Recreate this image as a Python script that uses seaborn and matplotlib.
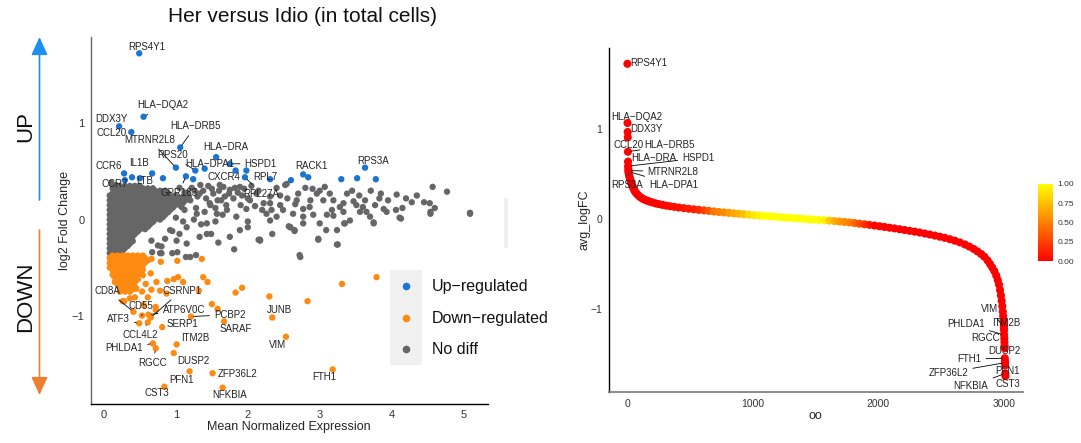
import numpy as np
import pandas as pd
import matplotlib
matplotlib.use("Agg")
import matplotlib.pyplot as plt
import seaborn as sns
import matplotlib as mpl
from matplotlib.patches import Rectangle, FancyArrowPatch
from matplotlib.lines import Line2D

# ======================= DATA: left panel (MA plot) =======================
up_gene = ["RPS4Y1", "HLA-DQA2", "DDX3Y", "CCL20", "HLA-DRB5", "HLA-DRA", "HSPD1", "MTRNR2L8",
           "RPS20", "HLA-DPA1", "CXCR4", "", "RPL27A", "RPL7", "RACK1", "", "", "RPS3A", "", "",
           "", "CCR6", "CCR7", "LTB", "", "IL1B", "", "GPR183", ""]
up_mean = [0.49, 0.55, 0.21, 0.38, 1.06, 1.56, 1.75, 1.00, 1.27, 1.40, 1.83, 1.98, 1.96, 2.31,
           2.77, 2.84, 2.60, 3.63, 3.30, 3.52, 3.78, 0.28, 0.29, 0.39, 0.50, 0.67, 0.82, 1.14, 1.24]
up_lfc = [1.73, 1.07, 0.97, 0.91, 0.75, 0.65, 0.58, 0.54, 0.51, 0.53, 0.51, 0.51, 0.44, 0.42,
          0.47, 0.44, 0.41, 0.54, 0.42, 0.43, 0.42, 0.48, 0.41, 0.44, 0.43, 0.48, 0.43, 0.45, 0.42]

down_gene = ["CD8A", "CSRNP1", "CD55", "ATP6V0C", "PCBP2", "ATF3", "SERP1", "SARAF", "JUNB",
             "CCL4L2", "ITM2B", "VIM", "PHLDA1", "RGCC", "DUSP2", "ZFP36L2", "PFN1", "FTH1",
             "CST3", "NFKBIA"]
down_mean = [0.41, 0.65, 0.53, 0.62, 1.21, 0.49, 0.81, 1.67, 2.34, 0.61, 1.01, 2.53, 0.68, 0.72,
             0.97, 1.51, 1.19, 3.18, 0.84, 1.65]
down_lfc = [-0.96, -1.02, -1.00, -0.99, -1.01, -1.08, -1.12, -1.06, -1.02, -1.07, -1.30, -1.22,
            -1.29, -1.34, -1.39, -1.60, -1.58, -1.56, -1.74, -1.75]

down_other_mean = [3.31, 3.79, 2.83, 2.30, 1.92, 1.83, 1.58, 1.50, 1.38, 1.44, 1.32, 1.36, 1.02,
                   0.79, 0.66, 1.10, 1.03, 0.97, 0.88, 0.73, 0.66, 0.78, 0.87, 0.72, 0.55, 0.28,
                   0.43, 0.61, 0.53, 0.45, 0.58, 0.65, 0.54, 0.26, 0.72, 0.36]
down_other_lfc = [-0.67, -0.60, -0.85, -0.80, -0.71, -0.76, -0.93, -0.88, -0.60, -0.65, -0.74,
                  -0.41, -0.43, -0.44, -0.41, -0.65, -0.60, -0.62, -0.64, -0.65, -0.73, -0.74,
                  -0.77, -0.91, -0.89, -0.85, -0.81, -0.81, -0.75, -0.72, -0.67, -0.56, -0.58,
                  -0.85, -0.94, -0.82]

# dense orange cluster, read row by row: (log2FC, [mean expression values])
down_core_rows = [
    (-0.375, [0.12, 0.19, 0.26, 0.33, 0.40, 0.47, 0.54]),
    (-0.400, [0.08, 0.15, 0.22, 0.29, 0.36, 0.43, 0.50, 0.57]),
    (-0.425, [0.12, 0.19, 0.26, 0.33, 0.40, 0.47, 0.54, 0.61]),
    (-0.450, [0.08, 0.15, 0.22, 0.29, 0.36, 0.43, 0.50, 0.57]),
    (-0.475, [0.12, 0.19, 0.26, 0.33, 0.40, 0.47, 0.54]),
    (-0.500, [0.08, 0.15, 0.22, 0.29, 0.36, 0.43, 0.50]),
    (-0.525, [0.12, 0.19, 0.26, 0.33, 0.40, 0.47, 0.54]),
    (-0.550, [0.15, 0.22, 0.29, 0.36, 0.43, 0.50]),
    (-0.575, [0.12, 0.19, 0.26, 0.33, 0.40, 0.47]),
    (-0.600, [0.15, 0.22, 0.29, 0.36, 0.43]),
    (-0.625, [0.19, 0.26, 0.33, 0.40, 0.47]),
    (-0.650, [0.15, 0.22, 0.29, 0.36, 0.43]),
    (-0.675, [0.19, 0.26, 0.33, 0.40]),
    (-0.700, [0.22, 0.29, 0.36, 0.43]),
    (-0.725, [0.26, 0.33, 0.40]),
    (-0.750, [0.22, 0.29, 0.36]),
]

# dense grey cluster, read row by row: (log2FC, [mean expression values])
gray_core_rows = [
    (0.350, [0.15, 0.22, 0.29, 0.36, 0.43, 0.50]),
    (0.325, [0.12, 0.19, 0.26, 0.33, 0.40, 0.47, 0.54, 0.61, 0.68]),
    (0.300, [0.15, 0.22, 0.29, 0.36, 0.43, 0.50, 0.57, 0.64, 0.71, 0.78, 0.85]),
    (0.275, [0.12, 0.19, 0.26, 0.33, 0.40, 0.47, 0.54, 0.61, 0.68, 0.75, 0.82, 0.89]),
    (0.250, [0.08, 0.15, 0.22, 0.29, 0.36, 0.43, 0.50, 0.57, 0.64, 0.71, 0.78, 0.85, 0.92, 0.99]),
    (0.225, [0.12, 0.19, 0.26, 0.33, 0.40, 0.47, 0.54, 0.61, 0.68, 0.75, 0.82, 0.89, 0.96, 1.03]),
    (0.200, [0.08, 0.15, 0.22, 0.29, 0.36, 0.43, 0.50, 0.57, 0.64, 0.71, 0.78, 0.85, 0.92, 0.99,
             1.06, 1.13]),
    (0.175, [0.12, 0.19, 0.26, 0.33, 0.40, 0.47, 0.54, 0.61, 0.68, 0.75, 0.82, 0.89, 0.96, 1.03,
             1.10]),
    (0.150, [0.08, 0.15, 0.22, 0.29, 0.36, 0.43, 0.50, 0.57, 0.64, 0.71, 0.78, 0.85, 0.92, 0.99,
             1.06]),
    (0.125, [0.12, 0.19, 0.26, 0.33, 0.40, 0.47, 0.54, 0.61, 0.68, 0.75, 0.82, 0.89, 0.96]),
    (0.100, [0.08, 0.15, 0.22, 0.29, 0.36, 0.43, 0.50, 0.57, 0.64, 0.71, 0.78, 0.85, 0.92]),
    (0.075, [0.12, 0.19, 0.26, 0.33, 0.40, 0.47, 0.54, 0.61, 0.68, 0.75, 0.82, 0.89]),
    (0.050, [0.08, 0.15, 0.22, 0.29, 0.36, 0.43, 0.50, 0.57, 0.64, 0.71, 0.78, 0.85]),
    (0.025, [0.12, 0.19, 0.26, 0.33, 0.40, 0.47, 0.54, 0.61, 0.68, 0.75, 0.82]),
    (0.000, [0.08, 0.15, 0.22, 0.29, 0.36, 0.43, 0.50, 0.57, 0.64, 0.71, 0.78]),
    (-0.025, [0.12, 0.19, 0.26, 0.33, 0.40, 0.47, 0.54, 0.61, 0.68]),
    (-0.050, [0.08, 0.15, 0.22, 0.29, 0.36, 0.43, 0.50, 0.57, 0.64]),
    (-0.075, [0.12, 0.19, 0.26, 0.33, 0.40, 0.47, 0.54, 0.61]),
    (-0.100, [0.08, 0.15, 0.22, 0.29, 0.36, 0.43, 0.50, 0.57]),
    (-0.125, [0.12, 0.19, 0.26, 0.33, 0.40, 0.47]),
    (-0.150, [0.08, 0.15, 0.22, 0.29, 0.36, 0.43]),
    (-0.175, [0.12, 0.19, 0.26, 0.33, 0.40]),
    (-0.200, [0.08, 0.15, 0.22, 0.29, 0.36]),
    (-0.225, [0.12, 0.19, 0.26, 0.33, 0.40]),
    (-0.250, [0.08, 0.15, 0.22, 0.29, 0.36]),
    (-0.275, [0.12, 0.19, 0.26, 0.33]),
    (-0.300, [0.08, 0.15, 0.22, 0.29]),
    (-0.325, [0.12, 0.19, 0.26]),
    (-0.350, [0.08, 0.15, 0.22]),
]

gray_sparse_mean = [1.61, 1.75, 1.89, 2.03, 2.12, 2.22, 2.31, 2.40, 2.49, 2.59, 2.68, 2.77, 2.86,
                    3.00, 3.05, 3.14, 3.24, 3.33, 2.73, 2.17, 1.89, 1.75, 1.57, 1.43, 1.33, 1.20,
                    1.01, 0.92, 0.80, 0.66, 1.33, 1.47, 1.63, 1.71, 1.84, 1.98, 1.29, 1.15, 1.08,
                    4.57, 4.77, 5.09, 4.45, 4.53, 4.54, 4.28, 4.07, 4.13, 4.06, 3.93, 3.89, 3.83,
                    3.77, 3.71, 3.75, 3.63, 3.60, 3.51, 3.42, 3.35, 3.24, 2.98, 3.09, 3.17, 3.19,
                    3.28, 3.38, 3.47, 3.07, 2.96, 2.87, 2.91, 2.77, 2.66, 2.63, 2.59, 2.65, 2.54,
                    2.52, 2.45, 2.31, 2.33, 2.26, 2.17, 2.31, 3.19, 3.33, 3.56, 3.70,
                    2.72, 2.98, 3.25, 2.65, 2.57, 2.77, 2.15, 1.81, 1.59, 1.43, 1.49, 1.28, 1.14,
                    1.02, 0.95, 0.78, 0.80, 0.67, 2.00, 2.34, 3.34, 4.54, 5.09, 3.75, 4.11,
                    0.10, 0.16, 1.16, 1.22, 1.30, 1.38, 1.45, 1.52, 1.20, 1.10, 1.60, 1.68, 1.80,
                    1.86, 1.95, 2.05, 1.70, 1.55, 1.90, 2.15, 2.20, 2.40, 2.45, 2.55, 2.70, 2.80,
                    2.90, 3.00, 3.10, 3.45, 3.55, 3.65, 3.85, 3.95, 4.15, 4.20, 4.35, 4.60, 1.00,
                    1.10, 1.25, 0.95, 1.05, 1.15, 0.85, 0.75, 1.35, 1.55, 1.65, 2.00,
                    1.05, 1.12, 1.18, 1.26, 1.34, 1.42, 1.50, 1.58, 1.66, 1.74, 1.82, 1.92, 2.00,
                    2.10, 1.12, 1.28, 1.40, 1.48]
gray_sparse_lfc = [0.36, 0.31, 0.34, 0.20, 0.27, 0.17, 0.24, 0.03, 0.10, -0.08, 0.20, 0.03, 0.13,
                   -0.04, 0.20, 0.27, -0.11, 0.17, -0.39, -0.22, -0.11, -0.18, 0.06, -0.04, -0.18,
                   -0.39, -0.22, -0.11, -0.35, -0.22, 0.27, 0.17, 0.20, 0.10, 0.03, 0.11, 0.06,
                   -0.08, 0.13,
                   0.34, 0.29, 0.07, 0.18, 0.17, 0.08, 0.18, 0.26, 0.01, 0.10, 0.08, 0.11, 0.22,
                   0.15, 0.30, -0.03, 0.20, 0.13, 0.15, -0.01, -0.04, -0.26, -0.20, -0.11, 0.10,
                   0.20, 0.13, 0.27, 0.19, 0.34, 0.27, 0.20, 0.05, 0.11, 0.16, 0.06, -0.08, -0.12,
                   0.37, 0.36, 0.25, 0.17, 0.10, 0.06, -0.21, -0.01, 0.04, 0.08, 0.08, 0.03,
                   -0.37, -0.21, -0.26, -0.11, -0.07, -0.04, -0.21, -0.31, -0.24, -0.15, -0.15,
                   -0.37, -0.39, -0.34, -0.35, -0.35, -0.28, -0.34, -0.08, -0.15, -0.04, 0.06,
                   0.06, -0.04, 0.02,
                   0.38, 0.36, 0.28, 0.33, 0.24, 0.30, 0.35, 0.27, 0.20, 0.24, 0.30, 0.24, 0.22,
                   0.28, 0.32, 0.35, 0.15, 0.12, 0.15, 0.30, 0.10, 0.33, 0.15, 0.22, 0.27, 0.33,
                   0.32, 0.30, 0.05, 0.30, 0.25, 0.08, 0.27, 0.20, 0.12, 0.22, 0.25, 0.12, 0.02,
                   -0.02, 0.00, -0.12, -0.15, -0.25, -0.20, -0.27, -0.05, -0.02, 0.05, -0.02,
                   0.33, 0.28, 0.24, 0.30, 0.36, 0.22, 0.32, 0.20, 0.34, 0.27, 0.33, 0.25, 0.22,
                   0.14, 0.10, 0.12, 0.08, 0.15]

group_names = ["Up-regulated", "Down-regulated", "No diff"]

# ======================= DATA: right panel (ranked avg_logFC) =======================
rank_idx = [1, 2, 3, 4, 5, 6, 7, 8, 9, 10, 11,
            14, 18, 22, 26, 30, 35, 40, 46, 53, 60, 68, 77, 87, 98, 110, 125, 140, 158, 178,
            200, 225, 250, 280, 310, 340, 375, 410, 450, 490, 530, 570, 610, 650, 690, 730,
            770, 810, 850, 890, 930, 970, 1010, 1050, 1090, 1130, 1170, 1210, 1250, 1290, 1330,
            1370, 1410, 1450, 1490, 1530, 1570, 1610, 1650, 1690, 1730, 1770, 1810, 1850, 1890,
            1930, 1970, 2010, 2050, 2090, 2130, 2170, 2210, 2250, 2290, 2330, 2370, 2410, 2450,
            2490, 2530, 2570, 2610, 2650, 2690, 2725, 2760, 2790, 2820, 2845, 2870, 2890, 2908,
            2925, 2940, 2952, 2962, 2970, 2977, 2983, 2988, 2992, 2995, 2998, 3000, 3001, 3002,
            3003, 3004, 3005, 3006, 3007, 3008, 3009, 3010, 3011, 3012, 3013]
avg_logFC = [1.73, 1.07, 0.97, 0.91, 0.75, 0.64, 0.59, 0.57, 0.54, 0.53, 0.51,
             0.49, 0.47, 0.45, 0.43, 0.41, 0.39, 0.37, 0.35, 0.33, 0.31, 0.295, 0.28, 0.265,
             0.25, 0.24, 0.225, 0.215, 0.205, 0.195, 0.185, 0.175, 0.167, 0.158, 0.150, 0.143,
             0.136, 0.129, 0.122, 0.115, 0.109, 0.103, 0.097, 0.091, 0.085, 0.079, 0.074,
             0.069, 0.064, 0.059, 0.054, 0.049, 0.044, 0.040, 0.035, 0.031, 0.027, 0.022,
             0.018, 0.014, 0.010, 0.006, 0.002, -0.002, -0.006, -0.010, -0.014, -0.018, -0.022,
             -0.027, -0.032, -0.038, -0.044, -0.051, -0.058, -0.065, -0.072, -0.080, -0.088,
             -0.096, -0.104, -0.113, -0.122, -0.131, -0.140, -0.150, -0.161, -0.172, -0.184,
             -0.196, -0.209, -0.224, -0.241, -0.260, -0.283, -0.306, -0.333, -0.36, -0.39,
             -0.42, -0.46, -0.50, -0.54, -0.58, -0.63, -0.68, -0.73, -0.79, -0.85, -0.91, -0.97,
             -1.03, -1.08, -1.13, -1.18, -1.21, -1.24, -1.29, -1.33, -1.37, -1.41, -1.44, -1.55,
             -1.58, -1.60, -1.63, -1.72, -1.75]
colour_val = [0, 0, 0, 0, 0, 0, 0, 0, 0, 0, 0,
              0, 0, 0, 0, 0, 0, 0, 0, 0, 0, 0, 0, 0, 0, 0, 0, 0, 0, 0,
              0, 0, 0, 0.02, 0.03, 0.04, 0.05, 0.06, 0.08, 0.1, 0.12, 0.15, 0.25, 0.35, 0.45, 0.5,
              0.55, 0.6, 0.65, 0.7, 0.75, 0.85, 0.9, 0.95, 1.0, 1.0, 1.0, 1.0, 1.0, 1.0, 1.0,
              1.0, 1.0, 1.0, 1.0, 1.0, 0.95, 0.8, 0.7, 0.6, 0.55, 0.5, 0.4, 0.3, 0.2,
              0.1, 0, 0, 0, 0, 0, 0, 0, 0, 0, 0, 0, 0, 0,
              0, 0, 0, 0, 0, 0, 0, 0, 0, 0, 0, 0, 0, 0,
              0, 0, 0, 0, 0, 0, 0, 0, 0, 0, 0, 0, 0, 0,
              0, 0, 0, 0, 0, 0, 0, 0, 0, 0, 0]
rank_gene = {"RPS4Y1": 1, "HLA-DQA2": 2, "DDX3Y": 3, "CCL20": 4, "HLA-DRB5": 5, "HLA-DRA": 6,
             "HSPD1": 7, "MTRNR2L8": 9, "HLA-DPA1": 10, "RPS3A": 11, "VIM": 3001, "ITM2B": 3002,
             "PHLDA1": 3003, "RGCC": 3004, "DUSP2": 3007, "FTH1": 3008, "ZFP36L2": 3010,
             "PFN1": 3011, "NFKBIA": 3012, "CST3": 3013}
cbar_ticks = [0.00, 0.25, 0.50, 0.75, 1.00]

# ======================= layout (label placement, not data) =======================
left_label_pos = {
    "RPS4Y1": (0.60, 1.80, 0), "HLA-DQA2": (0.82, 1.19, 1), "DDX3Y": (0.11, 1.05, 0),
    "CCL20": (0.10, 0.90, 0), "MTRNR2L8": (0.64, 0.83, 1), "HLA-DRB5": (1.27, 0.97, 1),
    "HLA-DRA": (1.69, 0.75, 0), "RPS20": (0.95, 0.67, 1), "HLA-DPA1": (1.47, 0.58, 0),
    "HSPD1": (2.18, 0.58, 1), "RACK1": (2.88, 0.56, 0), "RPS3A": (3.74, 0.61, 0),
    "CCR6": (0.06, 0.56, 0), "IL1B": (0.49, 0.59, 0), "CCR7": (0.15, 0.37, 0),
    "LTB": (0.56, 0.40, 0), "CXCR4": (1.67, 0.44, 0), "RPL7": (2.24, 0.44, 0),
    "GPR183": (1.04, 0.28, 1), "RPL27A": (2.19, 0.27, 1),
    "CD8A": (0.05, -0.74, 1), "CSRNP1": (1.08, -0.74, 1), "CD55": (0.52, -0.90, 1),
    "ATP6V0C": (1.11, -0.94, 1), "PCBP2": (1.75, -0.99, 1), "ATF3": (0.20, -1.04, 1),
    "SERP1": (1.09, -1.09, 0), "SARAF": (1.83, -1.14, 0), "JUNB": (2.44, -0.94, 0),
    "CCL4L2": (0.50, -1.20, 1), "ITM2B": (1.27, -1.23, 0), "VIM": (2.42, -1.31, 0),
    "PHLDA1": (0.28, -1.34, 1), "RGCC": (0.68, -1.49, 1), "DUSP2": (1.24, -1.47, 0),
    "ZFP36L2": (1.86, -1.61, 0), "PFN1": (1.08, -1.67, 0), "FTH1": (3.07, -1.64, 0),
    "CST3": (0.73, -1.81, 0), "NFKBIA": (1.75, -1.83, 0),
}
right_label_pos = {
    "RPS4Y1": (174, 1.74, 0), "HLA-DQA2": (77, 1.14, 0), "DDX3Y": (155, 1.00, 0),
    "CCL20": (8, 0.83, 0), "HLA-DRB5": (338, 0.825, 1), "HLA-DRA": (214, 0.68, 0),
    "HSPD1": (567, 0.68, 1), "MTRNR2L8": (365, 0.53, 1), "HLA-DPA1": (370, 0.38, 1),
    "RPS3A": (2, 0.38, 1), "VIM": (2890, -1.00, 1), "ITM2B": (3017, -1.16, 0),
    "PHLDA1": (2699, -1.17, 1), "RGCC": (2858, -1.32, 1), "DUSP2": (3002, -1.47, 0),
    "FTH1": (2725, -1.56, 1), "ZFP36L2": (2558, -1.71, 1), "PFN1": (3031, -1.69, 0),
    "NFKBIA": (2739, -1.86, 1), "CST3": (3031, -1.84, 0),
}

# ======================= build tables =======================
core_d_mean = [m for y, xs in down_core_rows for m in xs]
core_d_lfc = [y for y, xs in down_core_rows for m in xs]
core_g_mean = [m for y, xs in gray_core_rows for m in xs]
core_g_lfc = [y for y, xs in gray_core_rows for m in xs]

df_left = pd.concat([
    pd.DataFrame({"mean": core_g_mean + gray_sparse_mean, "lfc": core_g_lfc + gray_sparse_lfc,
                  "group": "No diff"}),
    pd.DataFrame({"mean": core_d_mean + down_other_mean + down_mean,
                  "lfc": core_d_lfc + down_other_lfc + down_lfc, "group": "Down-regulated"}),
    pd.DataFrame({"mean": up_mean, "lfc": up_lfc, "group": "Up-regulated"}),
], ignore_index=True)

df_right = pd.DataFrame({"rank": rank_idx, "avg_logFC": avg_logFC, "val": colour_val})
rank_lookup = dict(zip(rank_idx, avg_logFC))

# ======================= styling =======================
sns.set_theme(style="white")
plt.rcParams['font.family'] = ['Liberation Sans', 'DejaVu Sans']
plt.rcParams['axes.unicode_minus'] = True

W, H = 1081, 443
fig = plt.figure(figsize=(W / 100, H / 100), dpi=100)

def fx(px):
    return px / W

def fy(py):
    return 1 - py / H

col_up, col_down, col_no = "#1B74D1", "#FF8A12", "#666666"
palette = {"Up-regulated": col_up, "Down-regulated": col_down, "No diff": col_no}
MINUS = "\u2212"

# ---------------- left panel ----------------
axL = fig.add_axes([fx(90.6), fy(404), fx(488 - 90.6), (404 - 37) / H])
sns.scatterplot(data=df_left, x="mean", y="lfc", hue="group", palette=palette, s=21,
                linewidth=0, legend=False, ax=axL, zorder=2)
axL.set_xlim(-0.186, 5.34)
axL.set_ylim(-1.92, 1.90)
axL.set_xticks([0, 1, 2, 3, 4, 5])
axL.set_yticks([-1, 0, 1])
for s in ["top", "right"]:
    axL.spines[s].set_visible(False)
axL.spines["left"].set_color("#666666")
axL.spines["bottom"].set_color("#000000")
axL.spines["left"].set_linewidth(1.0)
axL.spines["bottom"].set_linewidth(1.0)
axL.tick_params(axis="both", length=2.5, width=0.6, labelsize=8, labelcolor="#333333", pad=2)
axL.tick_params(axis="y", color="#666666")
axL.set_xlabel("Mean Normalized Expression", fontsize=9)
axL.set_ylabel("log2 Fold Change", fontsize=9)
axL.xaxis.set_label_coords(0.5, -0.046)
axL.yaxis.set_label_coords(-0.050, 0.5)

up_pts = {g: (m, l) for g, m, l in zip(up_gene, up_mean, up_lfc) if g}
down_pts = {g: (m, l) for g, m, l in zip(down_gene, down_mean, down_lfc)}
all_pts = {**up_pts, **down_pts}
for g, (tx, ty, seg) in left_label_pos.items():
    px, py = all_pts[g]
    axL.annotate(g.replace("-", MINUS), xy=(px, py), xytext=(tx, ty), ha="center", va="center",
                 fontsize=7, color="#222222", zorder=5, annotation_clip=False,
                 arrowprops=(dict(arrowstyle="-", color="black", lw=0.6, shrinkA=1, shrinkB=2)
                             if seg else None))

# ---------------- right panel ----------------
axR = fig.add_axes([fx(608.7), fy(392.3), fx(1023 - 608.7), (392.3 - 48) / H])
sns.scatterplot(data=df_right, x="rank", y="avg_logFC", hue="val", palette="autumn",
                hue_norm=(0, 1), s=34, linewidth=0, legend=False, ax=axR, zorder=2)
axR.set_xlim(-148, 3153)
axR.set_ylim(-1.93, 1.906)
axR.set_xticks([0, 1000, 2000, 3000])
axR.set_yticks([-1, 0, 1])
for s in ["top", "right"]:
    axR.spines[s].set_visible(False)
axR.spines["left"].set_color("#000000")
axR.spines["bottom"].set_color("#777777")
axR.spines["left"].set_linewidth(1.0)
axR.spines["bottom"].set_linewidth(1.2)
axR.tick_params(axis="both", length=2.5, width=0.6, labelsize=7.5, labelcolor="#333333", pad=2)
axR.tick_params(axis="x", color="#777777")
axR.set_xlabel("oo", fontsize=9)
axR.set_ylabel("avg_logFC", fontsize=9)
axR.xaxis.set_label_coords(0.5, -0.051)
axR.yaxis.set_label_coords(-0.045, 0.5)

for g, (tx, ty, seg) in right_label_pos.items():
    r = rank_gene[g]
    axR.annotate(g.replace("-", MINUS), xy=(r, rank_lookup[r]), xytext=(tx, ty), ha="center",
                 va="center", fontsize=7, color="#222222", zorder=5, annotation_clip=False,
                 arrowprops=(dict(arrowstyle="-", color="black", lw=0.6, shrinkA=1, shrinkB=2)
                             if seg else None))

# colour bar
cax = fig.add_axes([fx(1037.7), fy(261), fx(15.6), 77 / H])
cb = mpl.colorbar.ColorbarBase(cax, cmap=plt.get_cmap("autumn"),
                               norm=mpl.colors.Normalize(0, 1), orientation="vertical")
cb.outline.set_visible(False)
cb.set_ticks(cbar_ticks)
cb.set_ticklabels([f"{t:.2f}" for t in cbar_ticks])
cax.yaxis.set_ticks_position("both")
cax.tick_params(axis="y", direction="in", length=3, width=0.6, color="white",
                labelsize=6, labelcolor="#333333", pad=3, labelleft=False, labelright=True)

# ---------------- figure decorations ----------------
fig.text(fx(302.7), fy(16.7), "Her versus Idio (in total cells)", ha="center", va="center",
         fontsize=15, color="#111111")

fig.text(fx(26), fy(127), "UP", rotation=90, ha="center", va="center", fontsize=16,
         color="#111111")
fig.text(fx(26), fy(297), "DOWN", rotation=90, ha="center", va="center", fontsize=16,
         color="#111111")
fig.add_artist(FancyArrowPatch((fx(39.5), fy(200)), (fx(39.5), fy(37)), transform=fig.transFigure,
                               arrowstyle="-|>,head_length=11,head_width=5", mutation_scale=1,
                               color="#1E90F0", lw=1.2, shrinkA=0, shrinkB=0))
fig.add_artist(FancyArrowPatch((fx(39.5), fy(230)), (fx(39.5), fy(395)), transform=fig.transFigure,
                               arrowstyle="-|>,head_length=11,head_width=5", mutation_scale=1,
                               color="#ED7D31", lw=1.2, shrinkA=0, shrinkB=0))

# small grey strip
fig.add_artist(Rectangle((fx(504), fy(248)), fx(4), 50 / H, transform=fig.transFigure,
                         facecolor="#EFEFEF", edgecolor="none"))

# manual legend for the left panel
fig.add_artist(Rectangle((fx(390), fy(365)), fx(31.7), 95 / H, transform=fig.transFigure,
                         facecolor="#F0F0F0", edgecolor="none"))
for name, py in zip(group_names, [286, 318, 349]):
    fig.add_artist(Line2D([fx(406)], [fy(py)], transform=fig.transFigure, marker="o",
                          markersize=5.5, markerfacecolor=palette[name], markeredgewidth=0,
                          linestyle="none"))
    fig.text(fx(431.7), fy(py), name.replace("-", MINUS), ha="left", va="center", fontsize=11.5,
             color="#111111")

fig.savefig("out.png", dpi=100)
